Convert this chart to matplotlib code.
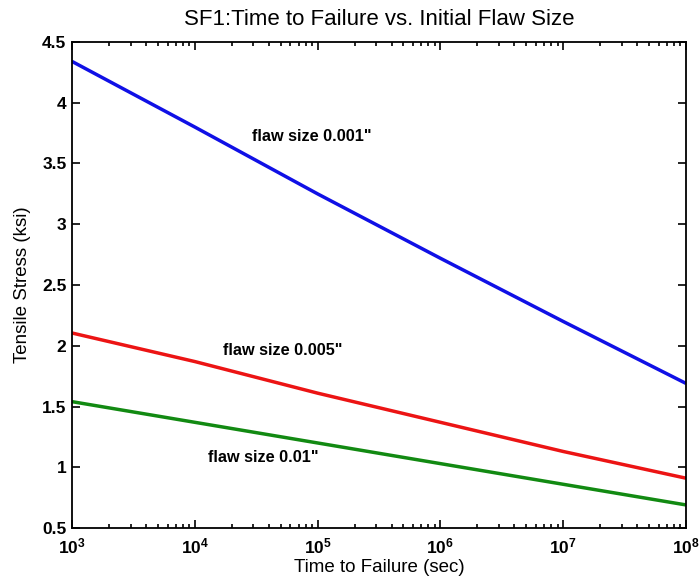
import numpy as np
import matplotlib
matplotlib.use("Agg")
import matplotlib.pyplot as plt
from matplotlib.ticker import LogLocator, NullFormatter

plt.rcParams['font.family'] = ['Liberation Sans', 'DejaVu Sans']
plt.rcParams['mathtext.fontset'] = 'custom'
plt.rcParams['mathtext.rm'] = 'Liberation Sans'
plt.rcParams['mathtext.bf'] = 'Liberation Sans:bold'
plt.rcParams['mathtext.default'] = 'bf'

# Time to failure (sec) at each decade
time_sec = [1e3, 1e4, 1e5, 1e6, 1e7, 1e8]

# Tensile stress (ksi) for each initial flaw size
stress_001 = [4.34, 3.80, 3.25, 2.72, 2.20, 1.69]
stress_005 = [2.105, 1.87, 1.61, 1.37, 1.13, 0.91]
stress_01 = [1.54, 1.37, 1.20, 1.03, 0.86, 0.69]

labels = ['flaw size 0.001"', 'flaw size 0.005"', 'flaw size 0.01"']
label_pos = [(10**4.954, 3.72), (10**4.72, 1.957), (10**4.555, 1.084)]

x_exponents = [3, 4, 5, 6, 7, 8]
y_ticks = [0.5, 1, 1.5, 2, 2.5, 3, 3.5, 4, 4.5]
y_ticklabels = ['0.5', '1', '1.5', '2', '2.5', '3', '3.5', '4', '4.5']

fig = plt.figure(figsize=(6.99, 5.83), dpi=100)
ax = fig.add_axes([0.103, 0.0943, 0.8784, 0.8337])

ax.semilogx(time_sec, stress_001, color='#1010e6', lw=2.5, solid_capstyle='butt')
ax.semilogx(time_sec, stress_005, color='#ec1414', lw=2.5, solid_capstyle='butt')
ax.semilogx(time_sec, stress_01, color='#128a12', lw=2.5, solid_capstyle='butt')

for text, (tx, ty) in zip(labels, label_pos):
    ax.text(tx, ty, text, ha='center', va='center', fontsize=11.7, fontweight='bold')

ax.set_xlim(1e3, 1e8)
ax.set_ylim(0.5, 4.5)
ax.set_xticks([10.0**e for e in x_exponents])
ax.set_xticklabels([f'$10^{{{e}}}$' for e in x_exponents])
ax.xaxis.set_minor_locator(LogLocator(base=10, subs=np.arange(2, 10), numticks=20))
ax.xaxis.set_minor_formatter(NullFormatter())
ax.set_yticks(y_ticks)
ax.set_yticklabels(y_ticklabels, fontweight='bold')

ax.tick_params(which='both', direction='in', top=True, right=True, width=1.2,
               labelsize=12.5)
ax.tick_params(axis='y', pad=4)
ax.tick_params(axis='x', pad=6)
ax.tick_params(which='major', length=6)
ax.tick_params(which='minor', length=3)
for sp in ax.spines.values():
    sp.set_linewidth(1.3)

ax.set_xlabel('Time to Failure (sec)', fontsize=13.5, labelpad=2)
ax.set_ylabel('Tensile Stress (ksi)', fontsize=13.5, labelpad=8)
ax.set_title('SF1:Time to Failure vs. Initial Flaw Size', fontsize=16, pad=12)

fig.savefig('out.png', dpi=100)
